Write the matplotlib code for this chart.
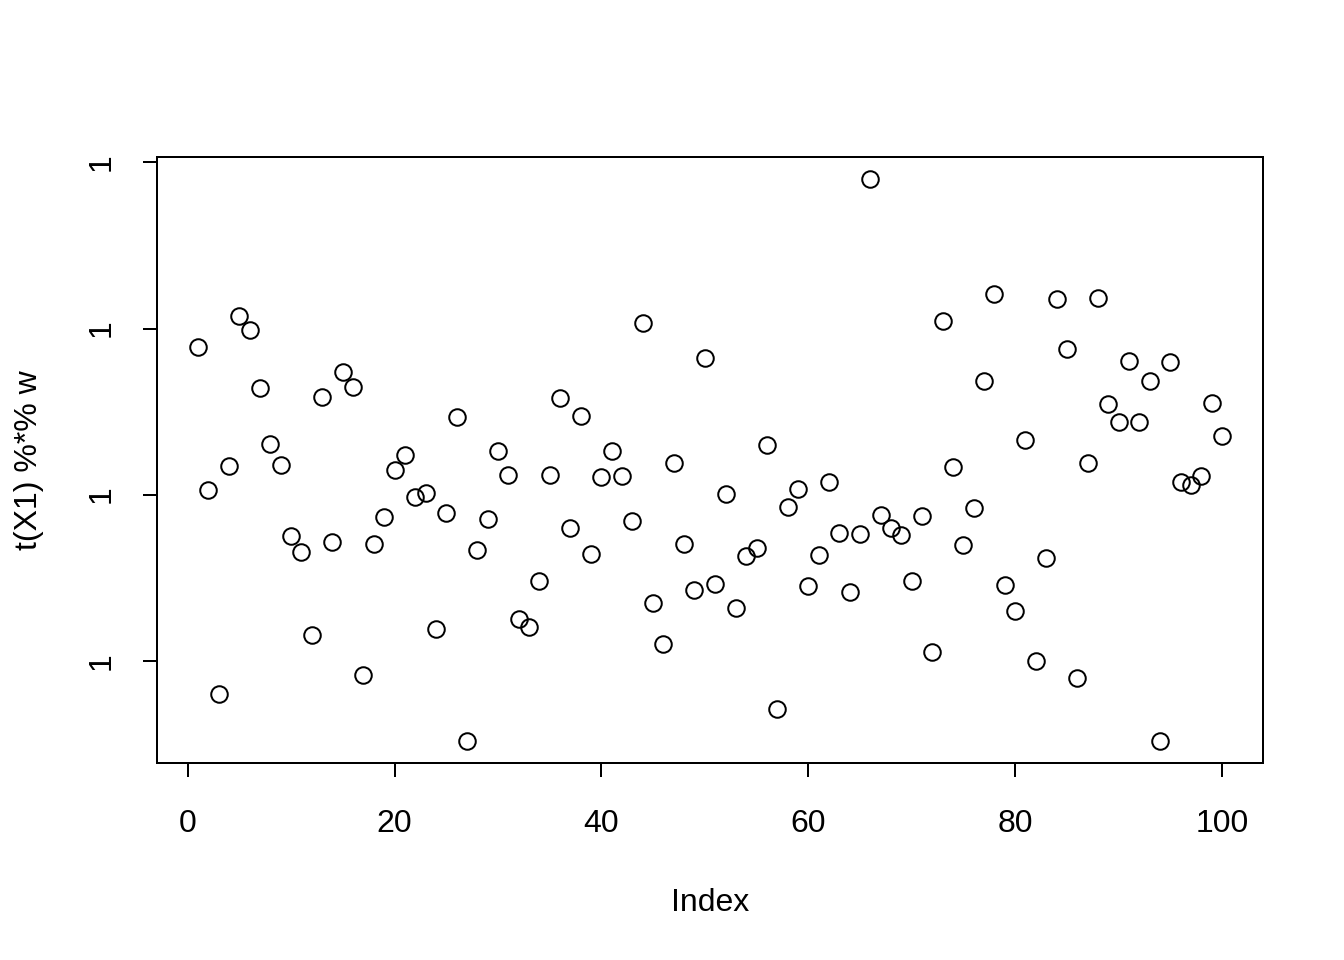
import matplotlib.pyplot as plt
import numpy as np

plt.rcParams['font.family'] = ['Liberation Sans', 'DejaVu Sans']

# values (units: one y tick step = 1)
idx = np.arange(1, 101)
pix = [347, 490, 694, 466, 316, 330, 388, 444, 465, 536,
       552, 635, 397, 542, 372, 387, 675, 544, 517, 470,
       455, 497, 493, 629, 513, 417, 741, 550, 519, 451,
       475, 619, 627, 581, 475, 398, 528, 416, 554, 477,
       451, 476, 521, 323, 603, 644, 463, 544, 590, 358,
       584, 494, 608, 556, 548, 445, 709, 507, 489, 586,
       555, 482, 533, 592, 534, 179, 515, 528, 535, 581,
       516, 652, 321, 467, 545, 508, 381, 294, 585, 611,
       440, 661, 558, 299, 349, 678, 463, 298, 404, 422,
       361, 422, 381, 741, 362, 482, 485, 476, 403, 436]
vals = (661 - np.array(pix)) / 166.33
yticks = [0, 1, 2, 3]
ytick_labels = ['1', '1', '1', '1']
xticks = [0, 20, 40, 60, 80, 100]

fig = plt.figure(figsize=(7, 5), dpi=192)
ax = fig.add_axes([157 / 1344, 197 / 960, 1106 / 1344, 606 / 960])
ax.plot(idx, vals, 'o', mfc='none', mec='black', ms=6.2, mew=0.75)

xr = idx.max() - idx.min()
ax.set_xlim(idx.min() - 0.04 * xr, idx.max() + 0.04 * xr)
yr = vals.max() - vals.min()
ax.set_ylim(vals.min() - 0.04 * yr, vals.max() + 0.04 * yr)

ax.set_xticks(xticks)
ax.set_yticks(yticks)
ax.set_yticklabels(ytick_labels, rotation=90, va='center')
ax.tick_params(length=5.25, width=0.75, labelsize=12)
ax.tick_params(axis='x', pad=12)
ax.tick_params(axis='y', pad=10)
for s in ax.spines.values():
    s.set_linewidth(0.75)

ax.set_xlabel('Index', fontsize=12, labelpad=18.5)
ax.set_ylabel('t(X1) %*% w', fontsize=12, labelpad=16)

fig.savefig('out.png', dpi=192)
